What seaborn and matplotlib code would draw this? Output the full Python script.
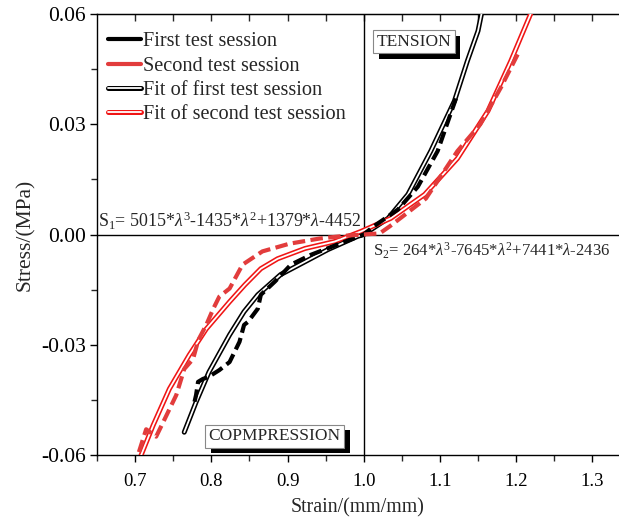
import numpy as np
import pandas as pd
import matplotlib
matplotlib.use('Agg')
import matplotlib.pyplot as plt
import matplotlib.patheffects as pe
from matplotlib.lines import Line2D
from matplotlib.ticker import MultipleLocator
import seaborn as sns

# first test session (measured)
first_x = [0.778, 0.780, 0.7826, 0.789, 0.796, 0.8105, 0.824, 0.837, 0.843, 0.848, 0.861, 0.865,
           0.8835, 0.9045, 0.931, 0.966, 1.0, 1.013, 1.045, 1.071, 1.097, 1.121]
first_y = [-0.0455, -0.0437, -0.0401, -0.0393, -0.0388, -0.0369, -0.0347, -0.0292, -0.0246, -0.0238,
           -0.0202, -0.0164, -0.0128, -0.0082, -0.0055, -0.0027, 0.0, 0.0022, 0.0068, 0.013, 0.0227, 0.037]

# second test session (measured)
second_x = [0.705, 0.7145, 0.7276, 0.737, 0.754, 0.7645, 0.776, 0.783, 0.7934, 0.8026, 0.8105, 0.824,
            0.841, 0.867, 0.9026, 0.942, 0.978, 1.021, 1.034, 1.051, 1.0816, 1.123, 1.153, 1.18, 1.202]
second_y = [-0.0592, -0.053, -0.055, -0.051, -0.0437, -0.0366, -0.0339, -0.0287, -0.0246, -0.0202,
            -0.0169, -0.0147, -0.0082, -0.0046, -0.0025, -0.0011, -0.0003, 0.0003, 0.0022, 0.0049,
            0.0098, 0.0227, 0.030, 0.040, 0.049]

# fitted curves
fit1_x = [0.7645, 0.78, 0.797, 0.824, 0.843, 0.861, 0.891, 0.923, 0.953, 0.992, 1.0, 1.032, 1.058,
          1.088, 1.119, 1.136, 1.15, 1.155]
fit1_y = [-0.0538, -0.0456, -0.0374, -0.0273, -0.021, -0.0164, -0.0109, -0.0074, -0.0041, -0.0005,
          0.0, 0.0044, 0.0109, 0.0227, 0.0363, 0.0472, 0.0554, 0.0605]
fit2_x = [0.704, 0.708, 0.7237, 0.745, 0.771, 0.7934, 0.824, 0.844, 0.865, 0.887, 0.923, 0.962, 0.996,
          1.0355, 1.080, 1.123, 1.163, 1.193, 1.219, 1.222]
fit2_y = [-0.062, -0.06, -0.0519, -0.042, -0.0328, -0.0257, -0.0183, -0.0137, -0.0093, -0.0066,
          -0.0038, -0.0019, 0.0008, 0.0044, 0.0109, 0.0207, 0.0336, 0.0472, 0.06, 0.062]

labels = ['First test session', 'Second test session', 'Fit of first test session', 'Fit of second test session']

sns.set_style('ticks')
plt.rcParams['font.family'] = ['Liberation Serif', 'DejaVu Serif']
plt.rcParams['mathtext.fontset'] = 'custom'
plt.rcParams['mathtext.rm'] = 'Liberation Serif'
plt.rcParams['mathtext.it'] = 'Liberation Serif:italic'

black = '#000000'
red_data = '#e23c3c'
red_fit = '#f01515'

fig = plt.figure(figsize=(6.19, 5.24), dpi=100)
ax = fig.add_axes([97 / 619, 69 / 524, 522 / 619, 441 / 524])

# crosshair
ax.axvline(1.0, color='black', lw=1.0, zorder=1)
ax.axhline(0.0, color='black', lw=1.0, zorder=1)

def double(color):
    return [pe.Stroke(linewidth=3.6, foreground=color), pe.Normal()]

sns.lineplot(x=fit1_x, y=fit1_y, sort=False, estimator=None, ax=ax, color='white', lw=1.3,
             path_effects=double(black), zorder=3)
sns.lineplot(x=fit2_x, y=fit2_y, sort=False, estimator=None, ax=ax, color='white', lw=1.3,
             path_effects=double(red_fit), zorder=3)
sns.lineplot(x=first_x, y=first_y, sort=False, estimator=None, ax=ax, color=black, lw=3.0,
             linestyle=(0, (3, 1.3)), zorder=4)
sns.lineplot(x=second_x, y=second_y, sort=False, estimator=None, ax=ax, color=red_data, lw=3.0,
             linestyle=(0, (3, 1.3)), zorder=4)

ax.set_xlim(0.65, 1.335)
ax.set_ylim(-0.06, 0.06)
ax.set_xticks([0.7, 0.8, 0.9, 1.0, 1.1, 1.2, 1.3])
ax.set_yticks([-0.06, -0.03, 0.0, 0.03, 0.06])
ax.set_yticklabels(['-0.06', '-0.03', '0.00', '0.03', '0.06'])
ax.xaxis.set_minor_locator(MultipleLocator(0.05))
ax.yaxis.set_minor_locator(MultipleLocator(0.015))
ax.tick_params(axis='both', which='major', direction='out', length=5, width=1, colors='black')
ax.tick_params(axis='both', which='minor', direction='out', length=4, width=1)
ax.tick_params(axis='x', which='major', labelsize=13.5, pad=8)
ax.tick_params(axis='y', which='major', labelsize=15.5, pad=3)
ax.spines['right'].set_visible(False)
for s in ['left', 'bottom', 'top']:
    ax.spines[s].set_linewidth(1.0)
    ax.spines[s].set_color('black')

top = ax.secondary_xaxis('top')
top.set_xticks(np.arange(0.7, 1.31, 0.05))
top.tick_params(direction='in', length=5, width=1, labeltop=False)
top.xaxis.set_minor_locator(plt.NullLocator())

ax.set_xlabel('Strain/(mm/mm)', fontsize=14.3, labelpad=6)
ax.set_ylabel('Stress/(MPa)', fontsize=15.5, labelpad=4)

ax.text(0.651, 0.0008, r'S$_1$= 5015*$\mathit{\lambda}^3$-1435*$\mathit{\lambda}^2$+1379*$\mathit{\lambda}$-4452',
        fontsize=12.9, ha='left', va='bottom')
ax.text(1.012, -0.0045, r'S$_2$= 264*$\mathit{\lambda}^3$-7645*$\mathit{\lambda}^2$+7441*$\mathit{\lambda}$-2436',
        fontsize=12.0, ha='left', va='center')

shadow = [pe.withSimplePatchShadow(offset=(4, -4), shadow_rgbFace='black', alpha=1.0)]
for tx, ty, s in [(1.066, 0.0524, 'TENSION'), (0.883, -0.0549, 'COPMPRESSION')]:
    t = ax.text(tx, ty, s, fontsize=12.5, ha='center', va='center', zorder=6,
                bbox=dict(boxstyle='square,pad=0.2', fc='white', ec='#888888', lw=0.8))
    t.get_bbox_patch().set_path_effects(shadow)

handles = [
    Line2D([], [], color=black, lw=3.0),
    Line2D([], [], color=red_data, lw=3.0),
    Line2D([], [], color='white', lw=1.3, path_effects=double(black)),
    Line2D([], [], color='white', lw=1.3, path_effects=double(red_fit)),
]
ax.legend(handles, labels, loc='upper left', bbox_to_anchor=(-0.013, 1.0), frameon=False,
          fontsize=14.6, handlelength=1.6, handletextpad=0.1, labelspacing=0.25,
          borderaxespad=0.6, borderpad=0.3)

fig.savefig('out.png', dpi=100)
